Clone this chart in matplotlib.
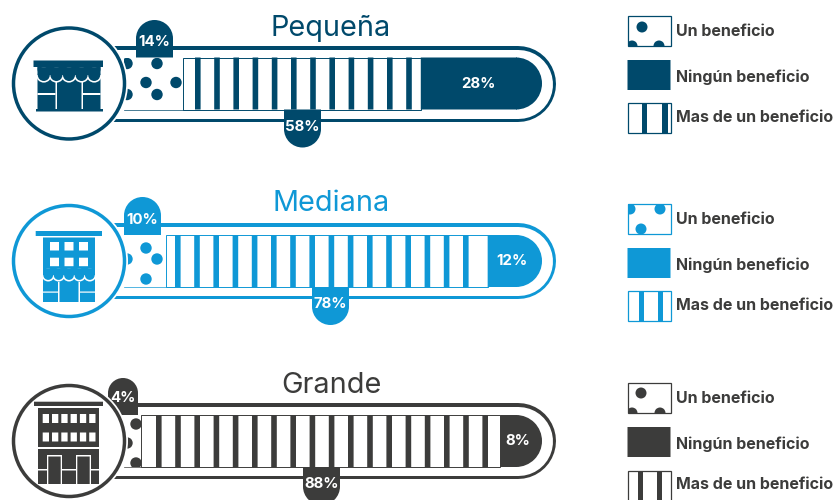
import matplotlib
matplotlib.use("Agg")
import matplotlib.pyplot as plt
from matplotlib.patches import Rectangle, Circle, Wedge

# === Data ===
sizes = ["Pequeña", "Mediana", "Grande"]
one_benefit = [14, 10, 4]
more_benefit = [58, 78, 88]
no_benefit = [28, 12, 8]
# drawn widths of the bars (share of the bar), not quite the labels in the original
one_width = [14, 10, 4]
more_width = [57, 77, 86]
legend_labels = ["Un beneficio", "Ningún beneficio", "Mas de un beneficio"]

colors = ["#00496b", "#0f98d6", "#3c3c3b"]
text_color = "#3c3c3b"
label_font = "Inter"

# === Layout in pixels ===
bar_x0 = 124
bar_x1 = 542
px_per_pct = (bar_x1 - bar_x0) / 100
px_per_pt = 100 / 72
centers = [83.5, 261, 441]
title_y = [36, 211, 393]
top_tabs = [(136, 173, 20), (124, 161, 197), (108, 138, 378)]
top_label_y = [42.5, 220, 398]
stripe_start = [195, 175, 156]
bottom_tab_x = [284, 312, 303]
# dots as offsets from the bar centre
dots = [
    [(127, -20), (157, -20), (146, -1), (176, -1), (127, 11), (157, 11)],
    [(127, -2), (146, -13), (157, -2), (146, 18)],
    [(136, -17), (127, 2), (136, 22)],
]
legend_y = [(16, 60, 103), (204, 248, 291), (383, 427, 471)]
legend_text_y = [(32, 77, 118), (219.5, 265.5, 305.5), (398.5, 444.5, 484.5)]
legend_dots = [
    [(642, 27), (632, 46), (659, 46)],
    [(630, 209), (660, 209), (641, 229)],
    [(641, 393), (632, 413), (660, 413)],
]
legend_stripes = [[(642, 5), (662, 6)], [(639, 5), (658, 5)], [(638, 5), (657, 5)]]

fig = plt.figure(figsize=(8.38, 5), dpi=100)
ax = fig.add_axes([0, 0, 1, 1])
ax.set_xlim(0, 838)
ax.set_ylim(500, 0)
ax.axis("off")


def rect(x0, y0, x1, y1, color, z=5):
    p = Rectangle((x0, y0), x1 - x0, y1 - y0, fc=color, ec="none", zorder=z)
    p.set_snap(False)
    ax.add_patch(p)


def tab(x0, x1, y0, y1, color, up=True):
    # square tab with a half circle on one end
    r = (x1 - x0) / 2
    if up:
        ax.add_patch(Circle((x0 + r, y0 + r), r, fc=color, ec="none", zorder=4))
        rect(x0, y0 + r, x1, y1, color, 4)
    else:
        ax.add_patch(Circle((x0 + r, y1 - r), r, fc=color, ec="none", zorder=4))
        rect(x0, y0, x1, y1 - r, color, 4)


def awning(x0, x1, y_mid, n, color):
    r = (x1 - x0) / n / 2
    for i in range(n):
        cx = x0 + r * (2 * i + 1)
        ax.add_patch(Circle((cx, y_mid), r + 1.3, fc="white", ec="none", zorder=7))
    for i in range(n):
        cx = x0 + r * (2 * i + 1)
        ax.add_patch(Circle((cx, y_mid), r - 0.3, fc=color, ec="none", zorder=8))
    rect(x0, y_mid - r - 1.5, x1, y_mid, color, 8)


def icon_small(c):
    rect(33.5, 60.5, 103, 67, c, 6)
    rect(37.5, 67, 100.5, 109, c, 6)
    awning(37.5, 100.5, 75, 5, c)
    rect(55.5, 82, 57, 109, "white", 9)
    rect(81.5, 82, 83, 109, "white", 9)
    rect(37.5, 93, 55.5, 95, "white", 9)
    rect(83, 93, 100.5, 95, "white", 9)
    rect(36, 109, 103, 111.5, c, 6)


def icon_medium(c):
    rect(35.7, 231, 102, 236, c, 6)
    rect(43, 237.5, 95, 302, c, 6)
    for y in [242, 257.7]:
        for x in [50, 64.5, 79]:
            rect(x, y, x + 9, y + 8.5, "white", 7)
    awning(43, 95, 275, 5, c)
    rect(58, 282, 59.5, 302, "white", 9)
    rect(78.5, 282, 80, 302, "white", 9)
    rect(43, 291.5, 58, 292.7, "white", 9)
    rect(80, 291.5, 95, 292.7, "white", 9)


def icon_large(c):
    rect(34, 401.7, 103, 406, c, 6)
    rect(38, 408, 99, 484, c, 6)
    for y in [414, 432.5]:
        for i in range(6):
            x = 42.7 + i * 9.3
            rect(x, y, x + 6.3, y + 9, "white", 7)
    rect(38, 447, 99, 449, "white", 7)
    rect(38, 469, 99, 470.5, "white", 7)
    for x in [47, 76]:
        rect(x, 455, x + 15, 484, "white", 8)
        rect(x + 1.3, 456.5, x + 13.7, 484, c, 9)


icons = [icon_small, icon_medium, icon_large]

for i, size in enumerate(sizes):
    c = colors[i]
    cy = centers[i]
    top = cy - 26
    bottom = cy + 26

    # outer pill, two thick round capped lines
    ax.plot([100, 518], [cy, cy], color=c, lw=76 / px_per_pt, solid_capstyle="round", zorder=1)
    ax.plot([100, 518], [cy, cy], color="white", lw=69 / px_per_pt, solid_capstyle="round", zorder=1)

    # segments
    x_more = bar_x0 + one_width[i] * px_per_pct
    x_none = x_more + more_width[i] * px_per_pct

    solid = ax.barh(cy, bar_x1 - 25 - x_none, left=x_none, height=52, color=c, zorder=2)
    solid[0].set_snap(False)
    ax.add_patch(Wedge((bar_x1 - 26, cy), 26, -90, 90, fc=c, ec="none", zorder=2))

    clip = Rectangle((bar_x0, top), x_more - bar_x0, 52, fc="none", ec="none")
    ax.add_patch(clip)
    for dx, dy in dots[i]:
        d = Circle((dx, cy + dy), 5.7, fc=c, ec="none", zorder=2)
        ax.add_patch(d)
        d.set_clip_path(clip)
    ax.plot([bar_x0, x_more], [bottom, bottom], color=c, lw=0.5, zorder=2)

    ax.add_patch(Rectangle((x_more, top), x_none - x_more, 52, fc="none", ec=c, lw=0.7, zorder=2))
    x = stripe_start[i]
    while x + 5.6 < x_none - 2:
        rect(x, top, x + 5.6, bottom, c, 2)
        x += 19.2

    # tabs and labels
    x0, x1, ytop = top_tabs[i]
    tab(x0, x1, ytop, top, c)
    ax.text((x0 + x1) / 2, top_label_y[i], f"{one_benefit[i]}%", color="white", fontsize=10.8, fontweight="bold",
            family=label_font, ha="center", va="center", zorder=12)
    bx = bottom_tab_x[i]
    tab(bx, bx + 37, bottom, bottom + 38, c, up=False)
    ax.text(bx + 18.5, bottom + 17.5, f"{more_benefit[i]}%", color="white", fontsize=10.8, fontweight="bold",
            family=label_font, ha="center", va="center", zorder=12)
    ax.text((x_none + bar_x1) / 2 - 3, cy, f"{no_benefit[i]}%", color="white", fontsize=10.8, fontweight="bold",
            family=label_font, ha="center", va="center", zorder=12)

    # circle with the building
    ax.add_patch(Circle((69, cy), 59, fc="white", ec="none", zorder=5))
    ax.add_patch(Circle((69, cy), 55.5, fc="white", ec=c, lw=2.5, zorder=5))
    icons[i](c)

    # title
    ax.text(331, title_y[i], size, color=c, fontsize=20.8, family=label_font, ha="center", va="baseline", zorder=12)

    # legend swatches
    y1, y2, y3 = legend_y[i]
    lx0 = 627.5
    lx1 = 670.5
    box = Rectangle((lx0, y1), lx1 - lx0, 30, fc="white", ec=c, lw=0.9, zorder=2)
    ax.add_patch(box)
    for dx, dy in legend_dots[i]:
        d = Circle((dx, dy), 5.5, fc=c, ec="none", zorder=3)
        ax.add_patch(d)
        d.set_clip_path(box)
    rect(lx0, y2, lx1, y2 + 30, c, 2)
    ax.add_patch(Rectangle((lx0, y3), lx1 - lx0, 30, fc="white", ec=c, lw=0.9, zorder=2))
    for sx, sw in legend_stripes[i]:
        rect(sx, y3, sx + sw, y3 + 30, c, 3)

    for label, ty in zip(legend_labels, legend_text_y[i]):
        ax.text(676, ty, label, color=text_color, fontsize=11.5, fontweight="bold", family=label_font,
                ha="left", va="center", zorder=12)

fig.savefig("out.png", dpi=100)
